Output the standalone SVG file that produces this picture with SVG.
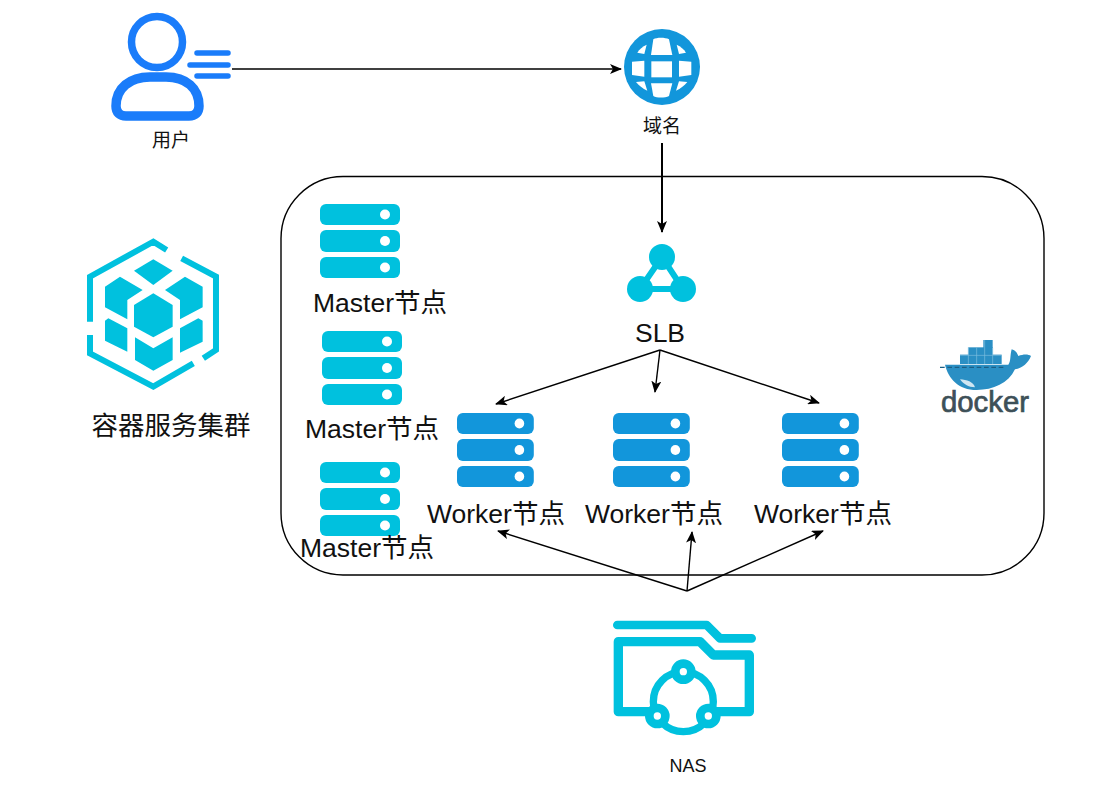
<svg xmlns="http://www.w3.org/2000/svg" width="1117" height="795" viewBox="0 0 1117 795">
  <style>
    text { font-family: "Liberation Sans", "Noto Sans CJK SC", sans-serif; fill: #111; }
    .big { font-size: 26.500px; }
    .small { font-size: 19px; }
    .cyan { fill: #00c1de; }
    .blue { fill: #1296db; }
    .dot { fill: #fff; }
    .wire { fill: none; stroke: #000; stroke-width: 1.400; marker-end: url(#tip); }
    .wire-bold { stroke-width: 2; }
  </style>
  <defs>
    <marker id="tip" viewBox="0 0 12 10" refX="11" refY="5" markerWidth="12" markerHeight="10" markerUnits="userSpaceOnUse" orient="auto">
      <path d="M0 0L12 5L0 10L3 5Z" fill="#000"/>
    </marker>
    <g id="rack">
      <rect x="0" y="0" width="80" height="21" rx="6"/>
      <rect x="0" y="26" width="80" height="22" rx="6"/>
      <rect x="0" y="53" width="80" height="21" rx="6"/>
      <circle class="dot" cx="65" cy="10.500" r="5"/>
      <circle class="dot" cx="65" cy="37" r="5"/>
      <circle class="dot" cx="65" cy="63.500" r="5"/>
    </g>
  </defs>

  <rect id="cluster-frame" x="281" y="176.500" width="763" height="398.500" rx="62" fill="none" stroke="#000" stroke-width="1.400"/>

  <g id="user">
    <circle cx="157" cy="42" r="25.500" fill="none" stroke="#1a7cfa" stroke-width="7.500"/>
    <path d="M116 106C116 88 130 77 150 77H166C186 77 199 88 199 106C199 113 195 116 189 116H126C120 116 116 113 116 106Z" fill="none" stroke="#1a7cfa" stroke-width="9.500"/>
    <path d="M197 53H228M190 65H228M197 76H228" fill="none" stroke="#1a7cfa" stroke-width="5.500" stroke-linecap="round"/>
    <text class="small" x="171" y="147" text-anchor="middle">用户</text>
  </g>

  <g id="domain">
    <circle class="blue" cx="662" cy="67" r="38"/>
    <g class="dot" transform="translate(600 20) scale(.3333)">
      <path d="M160 58C170 52 195 52 207 58L217 105H153Z"/>
      <path d="M112 98C118 88 128 80 140 74L133 102Z"/>
      <path d="M258 98C252 88 242 80 230 74L237 102Z"/>
      <path d="M96 125L133 122L133 170L96 165Z"/>
      <path d="M154 124H216V172H154Z"/>
      <path d="M274 125L237 122L237 170L274 165Z"/>
      <path d="M153 190H217L207 228C195 234 170 234 160 228Z"/>
      <path d="M108 186L133 184L142 212C128 206 116 196 108 186Z"/>
      <path d="M262 186L237 184L228 212C242 206 254 196 262 186Z"/>
    </g>
    <text class="small" x="662" y="133" text-anchor="middle">域名</text>
  </g>

  <g id="container-cluster">
    <g transform="translate(70 230) scale(.3333)">
      <path d="M60 275V140L250 35L290 60M335 85L438 140V360L400 385M370 400L250 470L60 370V315" fill="none" stroke="#00c1de" stroke-width="18"/>
      <g class="cyan">
        <path d="M250 88L308 122L250 165L192 122Z"/>
        <path d="M150 140L218 180L172 210V268L105 232V170Z"/>
        <path d="M345 140L398 170V232L330 268V210L285 180Z"/>
        <path d="M250 190L308 225V290L250 322L192 290V225Z"/>
        <path d="M115 265L172 295V365L105 332V272Z"/>
        <path d="M385 265L398 272V335L330 368V295Z"/>
        <path d="M195 322L250 355L308 322V390L250 422L195 390Z"/>
      </g>
    </g>
    <text class="big" x="171" y="435" text-anchor="middle">容器服务集群</text>
  </g>

  <g id="slb">
    <path d="M662 257L640 289H683Z" fill="none" stroke="#00c1de" stroke-width="6"/>
    <circle class="cyan" cx="662" cy="257" r="13"/>
    <circle class="cyan" cx="640" cy="289" r="13"/>
    <circle class="cyan" cx="683" cy="289" r="13"/>
    <text class="big" x="660" y="342" text-anchor="middle">SLB</text>
  </g>

  <g id="master-1">
    <use href="#rack" class="cyan" x="320" y="204"/>
    <text class="big" x="313" y="312">Master节点</text>
  </g>
  <g id="master-2">
    <use href="#rack" class="cyan" x="322" y="331"/>
    <text class="big" x="305" y="438">Master节点</text>
  </g>
  <g id="master-3">
    <use href="#rack" class="cyan" x="320" y="462"/>
    <text class="big" x="300" y="557">Master节点</text>
  </g>

  <g id="worker-1">
    <use href="#rack" class="blue" transform="translate(457 413) scale(.96 1)"/>
    <text class="big" x="427" y="523">Worker节点</text>
  </g>
  <g id="worker-2">
    <use href="#rack" class="blue" transform="translate(613 413) scale(.96 1)"/>
    <text class="big" x="585" y="523">Worker节点</text>
  </g>
  <g id="worker-3">
    <use href="#rack" class="blue" transform="translate(782 413) scale(.96 1)"/>
    <text class="big" x="754" y="523">Worker节点</text>
  </g>

  <g id="docker">
    <g transform="translate(930 330) scale(.3333)">
      <g fill="#2a8fc4">
        <rect x="160" y="30" width="28" height="24"/>
        <rect x="115" y="52" width="73" height="24"/>
        <rect x="90" y="74" width="125" height="28"/>
        <path d="M45 104H235C243 95 240 75 245 58C258 62 262 70 265 78C280 72 295 72 303 78C295 100 275 115 255 118C235 160 190 180 140 180C85 180 55 145 45 104Z"/>
      </g>
      <path d="M115 52V102M140 52V102M164 30V102M188 54V102M90 76H215" stroke="#7fc0e0" stroke-width="2" fill="none"/>
      <path d="M30 112H225" stroke="#1c5f85" stroke-width="4" stroke-dasharray="14 8" fill="none"/>
      <path d="M90 148C110 150 130 155 135 172C115 172 100 162 90 148Z" fill="#cfe6f2"/>
    </g>
    <text x="941" y="412" font-size="29" textLength="88" lengthAdjust="spacingAndGlyphs" style="fill:#3d5058;stroke:#3d5058;stroke-width:.7">docker</text>
  </g>

  <g id="nas">
    <g transform="translate(600 600) scale(.3333)" fill="none" stroke="#00c1de">
      <path d="M52 75H320L360 115H455" stroke-width="26" stroke-linecap="round" stroke-linejoin="round"/>
      <path d="M150 335H55V125H300L340 165H448V335H340" stroke-width="28" stroke-linejoin="round"/>
      <circle cx="250" cy="305" r="90" stroke-width="22"/>
      <circle cx="250" cy="215" r="24" fill="#fff" stroke-width="26"/>
      <circle cx="172" cy="348" r="24" fill="#fff" stroke-width="26"/>
      <circle cx="325" cy="348" r="24" fill="#fff" stroke-width="26"/>
    </g>
    <text x="688" y="772" font-size="18" text-anchor="middle">NAS</text>
  </g>

  <g id="connectors">
    <path class="wire" d="M232 69H621"/>
    <path class="wire wire-bold" d="M662 143V232"/>
    <path class="wire" d="M660 350L496 404"/>
    <path class="wire" d="M660 350L655 392"/>
    <path class="wire" d="M660 350L819 403"/>
    <path class="wire" d="M687 591L498 531"/>
    <path class="wire" d="M687 591L692 532"/>
    <path class="wire" d="M687 591L823 531"/>
  </g>
</svg>
